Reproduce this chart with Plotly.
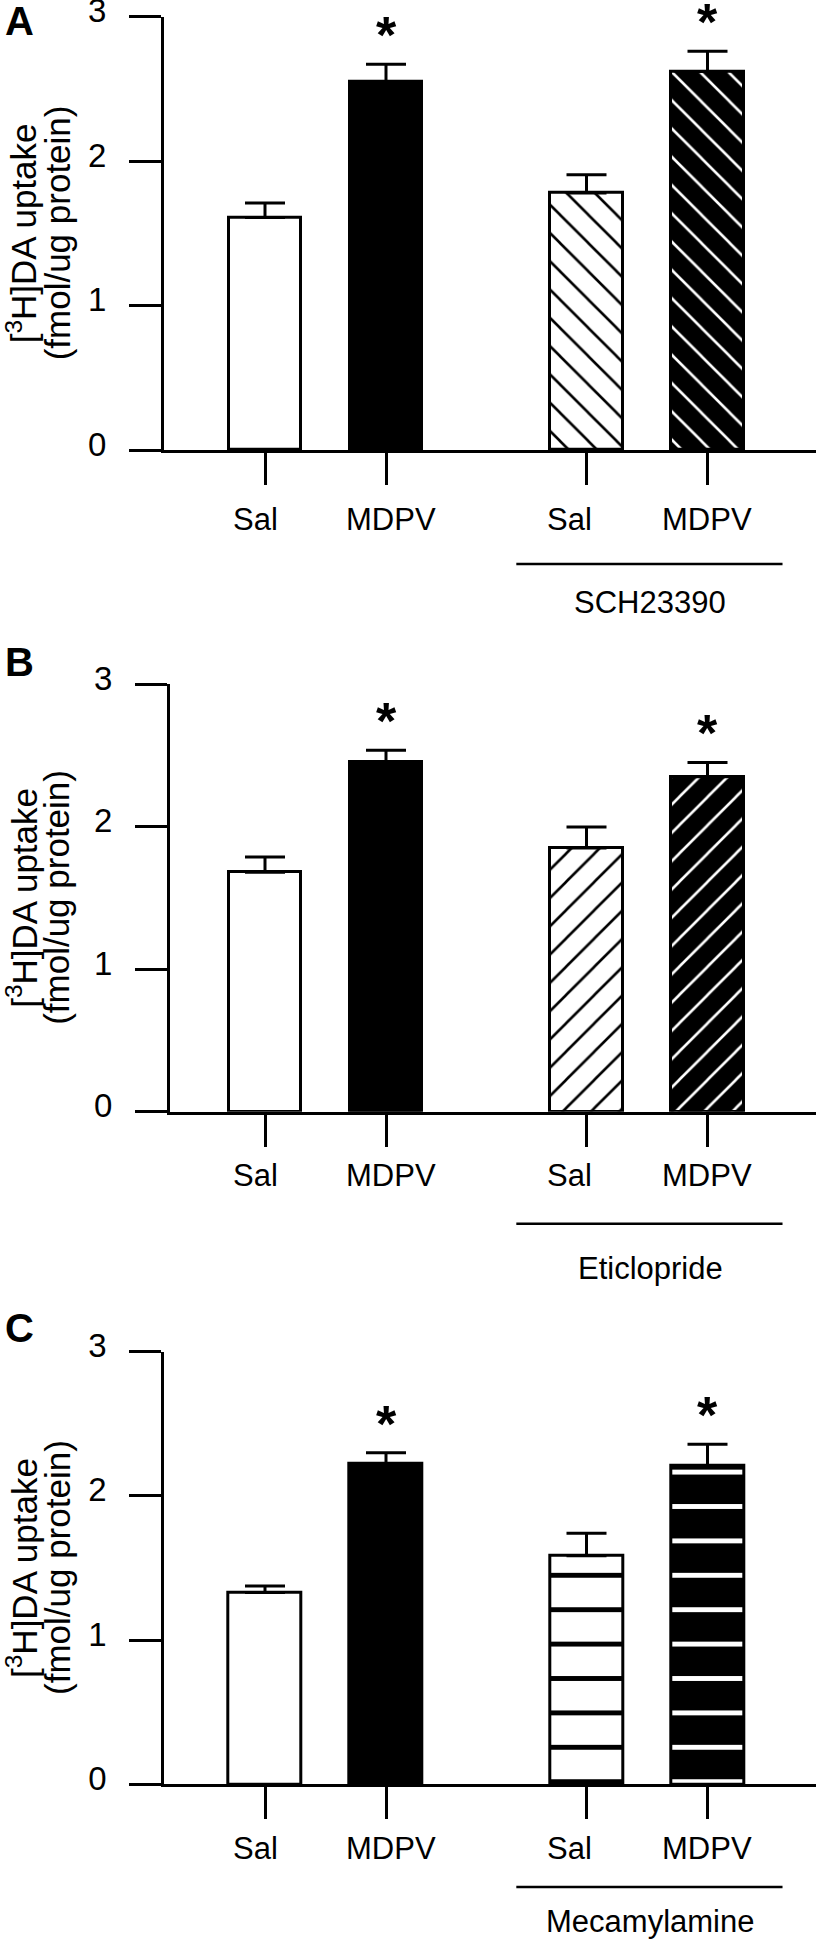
import plotly.graph_objects as go

# ---------------- data ----------------
groups = ["Sal", "MDPV", "Sal", "MDPV"]
pretreatments = ["SCH23390", "Eticlopride", "Mecamylamine"]
panel_letters = ["A", "B", "C"]
y_ticks = [0, 1, 2, 3]

mean_A = [1.61, 2.55, 1.78, 2.62]
sem_A = [0.10, 0.12, 0.125, 0.14]
mean_B = [1.68, 2.45, 1.85, 2.35]
sem_B = [0.107, 0.085, 0.147, 0.10]
mean_C = [1.33, 2.22, 1.585, 2.207]
sem_C = [0.045, 0.08, 0.156, 0.151]
significant = [False, True, False, True]

# ---------------- style / layout constants ----------------
W, H = 816, 1940
FONT = "Liberation Sans, Arial, Helvetica, sans-serif"
GAP = 1.657                      # distance between the two groups (category units)
positions = [0, 1, 1 + GAP, 2 + GAP]
PX0, PXU = 265.0, 121.0          # pixel of position 0, pixels per unit
BAR_W = 0.6
fills = ["white", "black", "white", "black"]
fgs = ["black", "white", "black", "white"]
patterned = [False, False, True, True]
label_xshift = [-10, 5, -17, -1]

panels = [
    dict(mean=mean_A, sem=sem_A, shape="\\", size=20, sol=0.13,
         left=164.0, top=16.7, bottom=450.0, label_dy=69.5, line_dy=114, group_dy=152.5, letter_y=21),
    dict(mean=mean_B, sem=sem_B, shape="/", size=20, sol=0.13,
         left=170.0, top=684.0, bottom=1111.7, label_dy=63.5, line_dy=112, group_dy=157, letter_y=662),
    dict(mean=mean_C, sem=sem_C, shape="-", size=34.4, sol=0.14,
         left=164.3, top=1351.7, bottom=1784.3, label_dy=64, line_dy=102.7, group_dy=137, letter_y=1328),
]

fig = go.Figure()
annotations = []
shapes = []

for i, p in enumerate(panels):
    n = "" if i == 0 else str(i + 1)
    xref, yref = "x" + n, "y" + n

    for j in range(len(groups)):
        pattern = dict(shape=p["shape"], fgcolor=fgs[j], bgcolor=fills[j],
                       size=p["size"], solidity=p["sol"], fillmode="replace") \
            if patterned[j] else dict(shape="")
        fig.add_trace(go.Bar(
            x=[positions[j]], y=[p["mean"][j]], width=BAR_W,
            xaxis=xref, yaxis=yref, showlegend=False,
            marker=dict(color=fills[j], line=dict(color="black", width=3), pattern=pattern),
            error_y=dict(type="data", symmetric=False, array=[p["sem"][j]],
                         arrayminus=[0], color="black", thickness=3, width=20),
        ))

    xmin = (p["left"] - PX0) / PXU
    xmax = (W - PX0) / PXU
    dom_x = [p["left"] / W, 1.0]
    dom_y = [1 - p["bottom"] / H, 1 - p["top"] / H]

    fig.update_layout(**{
        "xaxis" + n: dict(domain=dom_x, range=[xmin, xmax], anchor=yref,
                          showline=True, linewidth=3, linecolor="black",
                          ticks="outside", ticklen=32, tickwidth=3, tickcolor="black",
                          tickvals=positions, showticklabels=False,
                          showgrid=False, zeroline=False, fixedrange=True),
        "yaxis" + n: dict(domain=dom_y, range=[0, 3], anchor=xref,
                          showline=True, linewidth=3, linecolor="black",
                          ticks="outside", ticklen=32, tickwidth=3, tickcolor="black",
                          tickvals=y_ticks, ticktext=[str(t) for t in y_ticks],
                          tickfont=dict(family=FONT, size=33, color="black"),
                          ticklabelstandoff=16, ticklabelshift=-6, ticklabeloverflow="allow",
                          showgrid=False, zeroline=False, fixedrange=True),
    })

    # x category labels
    for j, g in enumerate(groups):
        annotations.append(dict(
            x=positions[j], y=0, xref=xref, yref=yref, text=g, showarrow=False,
            xanchor="center", yanchor="middle", xshift=label_xshift[j], yshift=-p["label_dy"],
            font=dict(family=FONT, size=31, color="black")))

    # significance asterisks
    for j, sig in enumerate(significant):
        if sig:
            annotations.append(dict(
                x=positions[j], y=p["mean"][j] + p["sem"][j], xref=xref, yref=yref,
                text="<b>*</b>", showarrow=False, xanchor="center", yanchor="middle",
                yshift=29, font=dict(family=FONT, size=52, color="black")))

    # group bracket line and pre-treatment label
    line_y = 1 - (p["bottom"] + p["line_dy"]) / H
    shapes.append(dict(type="line", xref=xref, yref="paper",
                       x0=positions[2] - 0.58, x1=positions[3] + 0.62,
                       y0=line_y, y1=line_y, line=dict(color="black", width=2.5)))
    annotations.append(dict(
        x=(positions[2] + positions[3]) / 2, y=0, xref=xref, yref=yref,
        text=pretreatments[i], showarrow=False, xanchor="center", yanchor="middle",
        xshift=3, yshift=-p["group_dy"], font=dict(family=FONT, size=31, color="black")))

    # y-axis title (two lines)
    annotations.append(dict(
        x=22 / W, y=0.5, xref="paper", yref=yref + " domain",
        text="[<sup>3</sup>H]DA uptake", showarrow=False, textangle=-90,
        xanchor="center", yanchor="middle", font=dict(family=FONT, size=35, color="black")))
    annotations.append(dict(
        x=57 / W, y=0.5, xref="paper", yref=yref + " domain",
        text="(fmol/ug protein)", showarrow=False, textangle=-90,
        xanchor="center", yanchor="middle", font=dict(family=FONT, size=35, color="black")))

    # panel letter
    annotations.append(dict(
        x=19 / W, y=1 - p["letter_y"] / H, xref="paper", yref="paper",
        text="<b>" + panel_letters[i] + "</b>", showarrow=False,
        xanchor="center", yanchor="middle", font=dict(family=FONT, size=40, color="black")))

fig.update_layout(
    width=W, height=H, margin=dict(l=0, r=0, t=0, b=0, autoexpand=False),
    paper_bgcolor="white", plot_bgcolor="white",
    annotations=annotations, shapes=shapes, barmode="overlay", bargap=0,
)

fig.write_html("out.html", config={"displayModeBar": False},
               post_script="document.body.style.margin='0';")
